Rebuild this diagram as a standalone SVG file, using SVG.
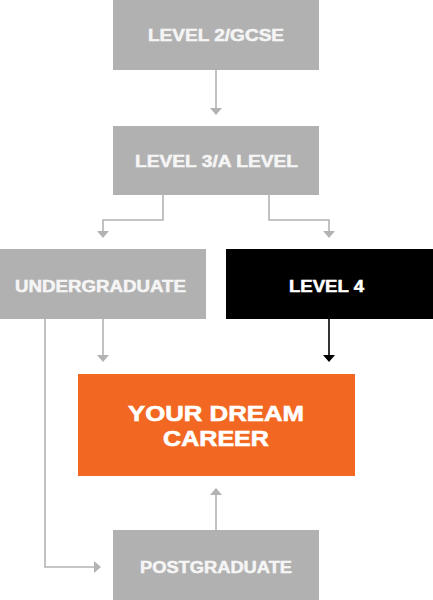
<svg xmlns="http://www.w3.org/2000/svg" width="433" height="600" viewBox="0 0 433 600">
<style>
.g{fill:#b1b1b1}
.t{font-family:"Liberation Sans",Arial,sans-serif;font-weight:bold;fill:#f5f5f5;stroke:#f5f5f5;stroke-width:0.5;font-size:16px}
.big{font-size:21.5px;fill:#ffffff;stroke:#ffffff;stroke-width:0.6}
.w{fill:#fff;stroke:#fff}
.c{fill:none;stroke:#b3b3b3;stroke-width:1.6}
.k{fill:none;stroke:#000;stroke-width:1.6}
.ah{fill:#b3b3b3}
.ak{fill:#000}
</style>
<rect width="433" height="600" fill="#fff"/>
<g id="connectors">
<path class="c" d="M216 70V108"/>
<path class="ah" d="M210 108H222L216 115Z"/>
<path class="c" d="M163 195V220H103V231"/>
<path class="ah" d="M97 231H109L103 238Z"/>
<path class="c" d="M269 195V220H329V231"/>
<path class="ah" d="M323 231H335L329 238Z"/>
<path class="c" d="M103 319V355"/>
<path class="ah" d="M97 355H109L103 362Z"/>
<path class="k" d="M329 319V355"/>
<path class="ak" d="M323 355H335L329 362Z"/>
<path class="c" d="M45 319V567H94"/>
<path class="ah" d="M94 561V573L101 567Z"/>
<path class="c" d="M216 530V495"/>
<path class="ah" d="M210 495H222L216 488Z"/>
</g>
<g id="level2"><rect class="g" x="113" y="0" width="206" height="70"/><text class="t" x="148" y="40.5" textLength="136" lengthAdjust="spacingAndGlyphs">LEVEL 2/GCSE</text></g>
<g id="level3"><rect class="g" x="113" y="126" width="206" height="69"/><text class="t" x="135" y="166.5" textLength="163" lengthAdjust="spacingAndGlyphs">LEVEL 3/A LEVEL</text></g>
<g id="undergraduate"><rect class="g" x="0" y="249" width="206" height="70"/><text class="t" x="15" y="291.5" textLength="171" lengthAdjust="spacingAndGlyphs">UNDERGRADUATE</text></g>
<g id="level4"><rect fill="#000" x="226" y="249" width="207" height="70"/><text class="t w" x="289" y="291.5" textLength="75" lengthAdjust="spacingAndGlyphs">LEVEL 4</text></g>
<g id="career"><rect fill="#f26822" x="78" y="374" width="277" height="102"/><text class="t big" x="128" y="420.5" textLength="176" lengthAdjust="spacingAndGlyphs">YOUR DREAM</text><text class="t big" x="163" y="445.5" textLength="106" lengthAdjust="spacingAndGlyphs">CAREER</text></g>
<g id="postgraduate"><rect class="g" x="113" y="530" width="206" height="70"/><text class="t" x="140" y="572.5" textLength="152" lengthAdjust="spacingAndGlyphs">POSTGRADUATE</text></g>
</svg>
